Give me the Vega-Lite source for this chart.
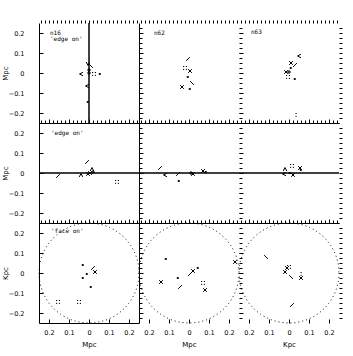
{
"$schema":"https://vega.github.io/schema/vega-lite/v6.json",
"padding":{"left":1,"top":19,"right":5,"bottom":5},
"background":"white",
"datasets":{"pts":[
{"run":"n16","view":"A","x":-0.005,"y":0.045,"sym":"v"},
{"run":"n16","view":"A","x":0.01,"y":0.035,"sym":"bslash"},
{"run":"n16","view":"A","x":-0.04,"y":-0.005,"sym":"lt"},
{"run":"n16","view":"A","x":0,"y":0,"sym":"plus"},
{"run":"n16","view":"A","x":0,"y":0.015,"sym":"plus"},
{"run":"n16","view":"A","x":0.025,"y":-0.005,"sym":"dots"},
{"run":"n16","view":"A","x":0.055,"y":-0.005,"sym":"dot"},
{"run":"n16","view":"A","x":-0.01,"y":-0.065,"sym":"lt"},
{"run":"n16","view":"A","x":-0.005,"y":-0.145,"sym":"dot"},
{"run":"n62","view":"A","x":-0.005,"y":0.07,"sym":"slash"},
{"run":"n62","view":"A","x":-0.02,"y":0.025,"sym":"dots"},
{"run":"n62","view":"A","x":0.005,"y":0.01,"sym":"x"},
{"run":"n62","view":"A","x":-0.005,"y":-0.02,"sym":"dot"},
{"run":"n62","view":"A","x":-0.035,"y":-0.07,"sym":"x"},
{"run":"n62","view":"A","x":0.015,"y":-0.05,"sym":"bslash"},
{"run":"n62","view":"A","x":0.005,"y":-0.08,"sym":"dot"},
{"run":"n63","view":"A","x":0.05,"y":0.085,"sym":"lt"},
{"run":"n63","view":"A","x":0.01,"y":0.05,"sym":"x"},
{"run":"n63","view":"A","x":0.03,"y":0.04,"sym":"slash"},
{"run":"n63","view":"A","x":0.01,"y":0.025,"sym":"dot"},
{"run":"n63","view":"A","x":-0.015,"y":0.005,"sym":"x"},
{"run":"n63","view":"A","x":0,"y":0.005,"sym":"plus"},
{"run":"n63","view":"A","x":-0.005,"y":-0.02,"sym":"dots"},
{"run":"n63","view":"A","x":0.03,"y":-0.03,"sym":"dot"},
{"run":"n63","view":"A","x":0.035,"y":-0.21,"sym":"colon"},
{"run":"n16","view":"B","x":-0.01,"y":0.055,"sym":"slash"},
{"run":"n16","view":"B","x":-0.155,"y":-0.015,"sym":"slash"},
{"run":"n16","view":"B","x":-0.04,"y":-0.01,"sym":"caret"},
{"run":"n16","view":"B","x":0.015,"y":0.02,"sym":"caret"},
{"run":"n16","view":"B","x":0.005,"y":0,"sym":"x"},
{"run":"n16","view":"B","x":-0.005,"y":-0.005,"sym":"x"},
{"run":"n16","view":"B","x":0.02,"y":0.005,"sym":"plus"},
{"run":"n16","view":"B","x":0.14,"y":-0.045,"sym":"dots"},
{"run":"n62","view":"B","x":-0.145,"y":0.025,"sym":"slash"},
{"run":"n62","view":"B","x":-0.12,"y":-0.01,"sym":"lt"},
{"run":"n62","view":"B","x":-0.05,"y":-0.04,"sym":"dot"},
{"run":"n62","view":"B","x":-0.055,"y":-0.005,"sym":"slash"},
{"run":"n62","view":"B","x":0.01,"y":0,"sym":"plus"},
{"run":"n62","view":"B","x":0.02,"y":-0.005,"sym":"x"},
{"run":"n62","view":"B","x":0.07,"y":0.01,"sym":"x"},
{"run":"n62","view":"B","x":0.085,"y":0.005,"sym":"dot"},
{"run":"n63","view":"B","x":-0.02,"y":0.02,"sym":"caret"},
{"run":"n63","view":"B","x":0.015,"y":0.035,"sym":"dots"},
{"run":"n63","view":"B","x":0.055,"y":0.025,"sym":"x"},
{"run":"n63","view":"B","x":0.06,"y":0.015,"sym":"dot"},
{"run":"n63","view":"B","x":-0.025,"y":-0.005,"sym":"lt"},
{"run":"n63","view":"B","x":0.005,"y":0,"sym":"dot"},
{"run":"n63","view":"B","x":0.02,"y":-0.01,"sym":"x"},
{"run":"n16","view":"C","x":-0.03,"y":0.04,"sym":"dot"},
{"run":"n16","view":"C","x":0.02,"y":0.025,"sym":"slash"},
{"run":"n16","view":"C","x":-0.01,"y":-0.005,"sym":"dot"},
{"run":"n16","view":"C","x":0.03,"y":0.005,"sym":"x"},
{"run":"n16","view":"C","x":-0.03,"y":-0.025,"sym":"dot"},
{"run":"n16","view":"C","x":0.01,"y":-0.07,"sym":"dot"},
{"run":"n16","view":"C","x":-0.155,"y":-0.145,"sym":"dots"},
{"run":"n16","view":"C","x":-0.05,"y":-0.145,"sym":"dots"},
{"run":"n62","view":"C","x":0.02,"y":0.01,"sym":"x"},
{"run":"n62","view":"C","x":0.045,"y":0.025,"sym":"dot"},
{"run":"n62","view":"C","x":0.005,"y":-0.005,"sym":"slash"},
{"run":"n62","view":"C","x":-0.055,"y":-0.025,"sym":"dot"},
{"run":"n62","view":"C","x":-0.045,"y":-0.07,"sym":"slash"},
{"run":"n62","view":"C","x":0.07,"y":-0.05,"sym":"dots"},
{"run":"n62","view":"C","x":0.08,"y":-0.085,"sym":"x"},
{"run":"n62","view":"C","x":-0.115,"y":0.07,"sym":"dot"},
{"run":"n62","view":"C","x":-0.14,"y":-0.045,"sym":"x"},
{"run":"n62","view":"C","x":0.23,"y":0.055,"sym":"x"},
{"run":"n63","view":"C","x":-0.115,"y":0.08,"sym":"bslash"},
{"run":"n63","view":"C","x":-0.01,"y":0.025,"sym":"x"},
{"run":"n63","view":"C","x":0,"y":0.03,"sym":"dots"},
{"run":"n63","view":"C","x":-0.02,"y":0.005,"sym":"x"},
{"run":"n63","view":"C","x":0.01,"y":-0.02,"sym":"bslash"},
{"run":"n63","view":"C","x":0.06,"y":-0.025,"sym":"x"},
{"run":"n63","view":"C","x":0.06,"y":-0.005,"sym":"colon"},
{"run":"n63","view":"C","x":0.015,"y":-0.16,"sym":"slash"}
]},
"columns":3,
"concat":[
{"width":100,"height":100,"layer":[
{"data":{"name":"pts"},"transform":[{"filter":"datum.run=='n16' && datum.view=='A'"}],"mark":{"type":"point","filled":false,"color":"black","strokeWidth":1,"strokeCap":"square","size":9,"opacity":1},
"encoding":{"x":{"field":"x","type":"quantitative","scale":{"domain":[-0.25,0.25],"nice":false,"zero":false},"axis":{"orient":"bottom","values":[-0.2,-0.1,0,0.1,0.2],"tickSize":-4,"labels":false,"title":null,"domain":true}},
"y":{"field":"y","type":"quantitative","scale":{"domain":[-0.25,0.25],"nice":false,"zero":false},"axis":{"orient":"left","values":[-0.2,-0.1,0,0.1,0.2],"tickSize":-4,"labels":true,"labelExpr":"format(datum.value,'~g')","labelPadding":19,"title":"Mpc","titlePadding":0,"domain":true}},
"shape":{"field":"sym","type":"nominal","legend":null,"scale":{"domain":["dot","x","plus","slash","bslash","caret","v","lt","dots","colon"],"range":["M-0.3,-0.3H0.3V0.3H-0.3Z","M-1,-1L1,1M-1,1L1,-1","M-1,0H1M0,-1V1","M-1,1L1,-1","M-1,-1L1,1","M-1,1L0,-1L1,1","M-1,-1L0,1L1,-1","M1,-1L-1,0L1,1","M-1,-1h0.1M0.9,-1h0.1M-1,0.9h0.1M0.9,0.9h0.1","M0,-1h0.1M0,0.9h0.1"]}}}},
{"data":{"name":"pts"},"transform":[{"filter":"datum.run=='n16' && datum.view=='A'"}],"mark":{"type":"point","opacity":0},
"encoding":{"x":{"field":"x","type":"quantitative","axis":{"orient":"top","values":[-0.24,-0.22,-0.2,-0.18,-0.16,-0.14,-0.12,-0.1,-0.08,-0.06,-0.04,-0.02,0,0.02,0.04,0.06,0.08,0.1,0.12,0.14,0.16,0.18,0.2,0.22,0.24],"tickSize":3,"labels":false,"title":null,"domain":false}},
"y":{"field":"y","type":"quantitative","axis":{"orient":"right","values":[-0.225,-0.2,-0.175,-0.15,-0.125,-0.1,-0.075,-0.05,-0.025,0,0.025,0.05,0.075,0.1,0.125,0.15,0.175,0.2,0.225],"tickSize":3,"labels":false,"title":null,"domain":true}}}},
{"data":{"values":[{}]},"mark":{"type":"rule","color":"black","strokeWidth":1.5},"encoding":{"x":{"datum":0,"type":"quantitative","axis":null}}},
{"data":{"values":[{"label":"n16\n'edge on'"}]},"mark":{"type":"text","align":"left","baseline":"top","font":"DejaVu Sans Mono","fontSize":6,"lineBreak":"\n","lineHeight":5.5,"color":"black"},"encoding":{"text":{"field":"label"},"x":{"datum":-0.195,"type":"quantitative","axis":null},"y":{"datum":0.215,"type":"quantitative","axis":null}}}
],"resolve":{"axis":{"x":"independent","y":"independent"}}},
{"width":100,"height":100,"layer":[
{"data":{"name":"pts"},"transform":[{"filter":"datum.run=='n62' && datum.view=='A'"}],"mark":{"type":"point","filled":false,"color":"black","strokeWidth":1,"strokeCap":"square","size":9,"opacity":1},
"encoding":{"x":{"field":"x","type":"quantitative","scale":{"domain":[-0.25,0.25],"nice":false,"zero":false},"axis":{"orient":"bottom","values":[-0.2,-0.1,0,0.1,0.2],"tickSize":-4,"labels":false,"title":null,"domain":true}},
"y":{"field":"y","type":"quantitative","scale":{"domain":[-0.25,0.25],"nice":false,"zero":false},"axis":{"orient":"left","values":[-0.2,-0.1,0,0.1,0.2],"tickSize":-4,"labels":false,"title":null,"domain":false}},
"shape":{"field":"sym","type":"nominal","legend":null,"scale":{"domain":["dot","x","plus","slash","bslash","caret","v","lt","dots","colon"],"range":["M-0.3,-0.3H0.3V0.3H-0.3Z","M-1,-1L1,1M-1,1L1,-1","M-1,0H1M0,-1V1","M-1,1L1,-1","M-1,-1L1,1","M-1,1L0,-1L1,1","M-1,-1L0,1L1,-1","M1,-1L-1,0L1,1","M-1,-1h0.1M0.9,-1h0.1M-1,0.9h0.1M0.9,0.9h0.1","M0,-1h0.1M0,0.9h0.1"]}}}},
{"data":{"name":"pts"},"transform":[{"filter":"datum.run=='n62' && datum.view=='A'"}],"mark":{"type":"point","opacity":0},
"encoding":{"x":{"field":"x","type":"quantitative","axis":{"orient":"top","values":[-0.24,-0.22,-0.2,-0.18,-0.16,-0.14,-0.12,-0.1,-0.08,-0.06,-0.04,-0.02,0,0.02,0.04,0.06,0.08,0.1,0.12,0.14,0.16,0.18,0.2,0.22,0.24],"tickSize":3,"labels":false,"title":null,"domain":false}},
"y":{"field":"y","type":"quantitative","axis":{"orient":"right","values":[-0.225,-0.2,-0.175,-0.15,-0.125,-0.1,-0.075,-0.05,-0.025,0,0.025,0.05,0.075,0.1,0.125,0.15,0.175,0.2,0.225],"tickSize":3,"labels":false,"title":null,"domain":false}}}},
{"data":{"values":[{"label":"n62"}]},"mark":{"type":"text","align":"left","baseline":"top","font":"DejaVu Sans Mono","fontSize":6,"color":"black"},"encoding":{"text":{"field":"label"},"x":{"datum":-0.175,"type":"quantitative","axis":null},"y":{"datum":0.215,"type":"quantitative","axis":null}}}
],"resolve":{"axis":{"x":"independent","y":"independent"}}},
{"width":100,"height":100,"layer":[
{"data":{"name":"pts"},"transform":[{"filter":"datum.run=='n63' && datum.view=='A'"}],"mark":{"type":"point","filled":false,"color":"black","strokeWidth":1,"strokeCap":"square","size":9,"opacity":1},
"encoding":{"x":{"field":"x","type":"quantitative","scale":{"domain":[-0.25,0.25],"nice":false,"zero":false},"axis":{"orient":"bottom","values":[-0.2,-0.1,0,0.1,0.2],"tickSize":-4,"labels":false,"title":null,"domain":true}},
"y":{"field":"y","type":"quantitative","scale":{"domain":[-0.25,0.25],"nice":false,"zero":false},"axis":{"orient":"left","values":[-0.2,-0.1,0,0.1,0.2],"tickSize":-4,"labels":false,"title":null,"domain":false}},
"shape":{"field":"sym","type":"nominal","legend":null,"scale":{"domain":["dot","x","plus","slash","bslash","caret","v","lt","dots","colon"],"range":["M-0.3,-0.3H0.3V0.3H-0.3Z","M-1,-1L1,1M-1,1L1,-1","M-1,0H1M0,-1V1","M-1,1L1,-1","M-1,-1L1,1","M-1,1L0,-1L1,1","M-1,-1L0,1L1,-1","M1,-1L-1,0L1,1","M-1,-1h0.1M0.9,-1h0.1M-1,0.9h0.1M0.9,0.9h0.1","M0,-1h0.1M0,0.9h0.1"]}}}},
{"data":{"name":"pts"},"transform":[{"filter":"datum.run=='n63' && datum.view=='A'"}],"mark":{"type":"point","opacity":0},
"encoding":{"x":{"field":"x","type":"quantitative","axis":{"orient":"top","values":[-0.24,-0.22,-0.2,-0.18,-0.16,-0.14,-0.12,-0.1,-0.08,-0.06,-0.04,-0.02,0,0.02,0.04,0.06,0.08,0.1,0.12,0.14,0.16,0.18,0.2,0.22,0.24],"tickSize":3,"labels":false,"title":null,"domain":false}},
"y":{"field":"y","type":"quantitative","axis":{"orient":"right","values":[-0.225,-0.2,-0.175,-0.15,-0.125,-0.1,-0.075,-0.05,-0.025,0,0.025,0.05,0.075,0.1,0.125,0.15,0.175,0.2,0.225],"tickSize":3,"labels":false,"title":null,"domain":false}}}},
{"data":{"values":[{"label":"n63"}]},"mark":{"type":"text","align":"left","baseline":"top","font":"DejaVu Sans Mono","fontSize":6,"color":"black"},"encoding":{"text":{"field":"label"},"x":{"datum":-0.19,"type":"quantitative","axis":null},"y":{"datum":0.22,"type":"quantitative","axis":null}}}
],"resolve":{"axis":{"x":"independent","y":"independent"}}},
{"width":100,"height":100,"layer":[
{"data":{"name":"pts"},"transform":[{"filter":"datum.run=='n16' && datum.view=='B'"}],"mark":{"type":"point","filled":false,"color":"black","strokeWidth":1,"strokeCap":"square","size":9,"opacity":1},
"encoding":{"x":{"field":"x","type":"quantitative","scale":{"domain":[-0.25,0.25],"nice":false,"zero":false},"axis":{"orient":"bottom","values":[-0.2,-0.1,0,0.1,0.2],"tickSize":-4,"labels":false,"title":null,"domain":true}},
"y":{"field":"y","type":"quantitative","scale":{"domain":[-0.25,0.25],"nice":false,"zero":false},"axis":{"orient":"left","values":[-0.2,-0.1,0,0.1,0.2],"tickSize":-4,"labels":true,"labelExpr":"format(datum.value,'~g')","labelPadding":19,"title":"Mpc","titlePadding":0,"domain":true}},
"shape":{"field":"sym","type":"nominal","legend":null,"scale":{"domain":["dot","x","plus","slash","bslash","caret","v","lt","dots","colon"],"range":["M-0.3,-0.3H0.3V0.3H-0.3Z","M-1,-1L1,1M-1,1L1,-1","M-1,0H1M0,-1V1","M-1,1L1,-1","M-1,-1L1,1","M-1,1L0,-1L1,1","M-1,-1L0,1L1,-1","M1,-1L-1,0L1,1","M-1,-1h0.1M0.9,-1h0.1M-1,0.9h0.1M0.9,0.9h0.1","M0,-1h0.1M0,0.9h0.1"]}}}},
{"data":{"name":"pts"},"transform":[{"filter":"datum.run=='n16' && datum.view=='B'"}],"mark":{"type":"point","opacity":0},
"encoding":{"x":{"field":"x","type":"quantitative","axis":{"orient":"top","values":[-0.24,-0.22,-0.2,-0.18,-0.16,-0.14,-0.12,-0.1,-0.08,-0.06,-0.04,-0.02,0,0.02,0.04,0.06,0.08,0.1,0.12,0.14,0.16,0.18,0.2,0.22,0.24],"tickSize":3,"labels":false,"title":null,"domain":true}},
"y":{"field":"y","type":"quantitative","axis":{"orient":"right","values":[-0.225,-0.2,-0.175,-0.15,-0.125,-0.1,-0.075,-0.05,-0.025,0,0.025,0.05,0.075,0.1,0.125,0.15,0.175,0.2,0.225],"tickSize":3,"labels":false,"title":null,"domain":true}}}},
{"data":{"values":[{}]},"mark":{"type":"rule","color":"black","strokeWidth":1.5},"encoding":{"y":{"datum":0,"type":"quantitative","axis":null}}},
{"data":{"values":[{"label":"'edge on'"}]},"mark":{"type":"text","align":"left","baseline":"top","font":"DejaVu Sans Mono","fontSize":6,"color":"black"},"encoding":{"text":{"field":"label"},"x":{"datum":-0.19,"type":"quantitative","axis":null},"y":{"datum":0.215,"type":"quantitative","axis":null}}}
],"resolve":{"axis":{"x":"independent","y":"independent"}}},
{"width":100,"height":100,"layer":[
{"data":{"name":"pts"},"transform":[{"filter":"datum.run=='n62' && datum.view=='B'"}],"mark":{"type":"point","filled":false,"color":"black","strokeWidth":1,"strokeCap":"square","size":9,"opacity":1},
"encoding":{"x":{"field":"x","type":"quantitative","scale":{"domain":[-0.25,0.25],"nice":false,"zero":false},"axis":{"orient":"bottom","values":[-0.2,-0.1,0,0.1,0.2],"tickSize":-4,"labels":false,"title":null,"domain":true}},
"y":{"field":"y","type":"quantitative","scale":{"domain":[-0.25,0.25],"nice":false,"zero":false},"axis":{"orient":"left","values":[-0.2,-0.1,0,0.1,0.2],"tickSize":-4,"labels":false,"title":null,"domain":false}},
"shape":{"field":"sym","type":"nominal","legend":null,"scale":{"domain":["dot","x","plus","slash","bslash","caret","v","lt","dots","colon"],"range":["M-0.3,-0.3H0.3V0.3H-0.3Z","M-1,-1L1,1M-1,1L1,-1","M-1,0H1M0,-1V1","M-1,1L1,-1","M-1,-1L1,1","M-1,1L0,-1L1,1","M-1,-1L0,1L1,-1","M1,-1L-1,0L1,1","M-1,-1h0.1M0.9,-1h0.1M-1,0.9h0.1M0.9,0.9h0.1","M0,-1h0.1M0,0.9h0.1"]}}}},
{"data":{"name":"pts"},"transform":[{"filter":"datum.run=='n62' && datum.view=='B'"}],"mark":{"type":"point","opacity":0},
"encoding":{"x":{"field":"x","type":"quantitative","axis":{"orient":"top","values":[-0.24,-0.22,-0.2,-0.18,-0.16,-0.14,-0.12,-0.1,-0.08,-0.06,-0.04,-0.02,0,0.02,0.04,0.06,0.08,0.1,0.12,0.14,0.16,0.18,0.2,0.22,0.24],"tickSize":3,"labels":false,"title":null,"domain":true}},
"y":{"field":"y","type":"quantitative","axis":{"orient":"right","values":[-0.225,-0.2,-0.175,-0.15,-0.125,-0.1,-0.075,-0.05,-0.025,0,0.025,0.05,0.075,0.1,0.125,0.15,0.175,0.2,0.225],"tickSize":3,"labels":false,"title":null,"domain":false}}}},
{"data":{"values":[{}]},"mark":{"type":"rule","color":"black","strokeWidth":1.5},"encoding":{"y":{"datum":0,"type":"quantitative","axis":null}}}
],"resolve":{"axis":{"x":"independent","y":"independent"}}},
{"width":100,"height":100,"layer":[
{"data":{"name":"pts"},"transform":[{"filter":"datum.run=='n63' && datum.view=='B'"}],"mark":{"type":"point","filled":false,"color":"black","strokeWidth":1,"strokeCap":"square","size":9,"opacity":1},
"encoding":{"x":{"field":"x","type":"quantitative","scale":{"domain":[-0.25,0.25],"nice":false,"zero":false},"axis":{"orient":"bottom","values":[-0.2,-0.1,0,0.1,0.2],"tickSize":-4,"labels":false,"title":null,"domain":true}},
"y":{"field":"y","type":"quantitative","scale":{"domain":[-0.25,0.25],"nice":false,"zero":false},"axis":{"orient":"left","values":[-0.2,-0.1,0,0.1,0.2],"tickSize":-4,"labels":false,"title":null,"domain":false}},
"shape":{"field":"sym","type":"nominal","legend":null,"scale":{"domain":["dot","x","plus","slash","bslash","caret","v","lt","dots","colon"],"range":["M-0.3,-0.3H0.3V0.3H-0.3Z","M-1,-1L1,1M-1,1L1,-1","M-1,0H1M0,-1V1","M-1,1L1,-1","M-1,-1L1,1","M-1,1L0,-1L1,1","M-1,-1L0,1L1,-1","M1,-1L-1,0L1,1","M-1,-1h0.1M0.9,-1h0.1M-1,0.9h0.1M0.9,0.9h0.1","M0,-1h0.1M0,0.9h0.1"]}}}},
{"data":{"name":"pts"},"transform":[{"filter":"datum.run=='n63' && datum.view=='B'"}],"mark":{"type":"point","opacity":0},
"encoding":{"x":{"field":"x","type":"quantitative","axis":{"orient":"top","values":[-0.24,-0.22,-0.2,-0.18,-0.16,-0.14,-0.12,-0.1,-0.08,-0.06,-0.04,-0.02,0,0.02,0.04,0.06,0.08,0.1,0.12,0.14,0.16,0.18,0.2,0.22,0.24],"tickSize":3,"labels":false,"title":null,"domain":true}},
"y":{"field":"y","type":"quantitative","axis":{"orient":"right","values":[-0.225,-0.2,-0.175,-0.15,-0.125,-0.1,-0.075,-0.05,-0.025,0,0.025,0.05,0.075,0.1,0.125,0.15,0.175,0.2,0.225],"tickSize":3,"labels":false,"title":null,"domain":false}}}},
{"data":{"values":[{}]},"mark":{"type":"rule","color":"black","strokeWidth":1.5},"encoding":{"y":{"datum":0,"type":"quantitative","axis":null}}}
],"resolve":{"axis":{"x":"independent","y":"independent"}}},
{"width":100,"height":100,"layer":[
{"data":{"name":"pts"},"transform":[{"filter":"datum.run=='n16' && datum.view=='C'"}],"mark":{"type":"point","filled":false,"color":"black","strokeWidth":1,"strokeCap":"square","size":9,"opacity":1},
"encoding":{"x":{"field":"x","type":"quantitative","scale":{"domain":[-0.25,0.25],"nice":false,"zero":false},"axis":{"orient":"bottom","values":[-0.2,-0.1,0,0.1,0.2],"tickSize":-4,"labels":true,"labelExpr":"format(abs(datum.value),'~g')","labelPadding":10,"title":"Mpc","titlePadding":5,"domain":true}},
"y":{"field":"y","type":"quantitative","scale":{"domain":[-0.25,0.25],"nice":false,"zero":false},"axis":{"orient":"left","values":[-0.2,-0.1,0,0.1,0.2],"tickSize":-4,"labels":true,"labelExpr":"format(datum.value,'~g')","labelPadding":19,"title":"Kpc","titlePadding":0,"domain":true}},
"shape":{"field":"sym","type":"nominal","legend":null,"scale":{"domain":["dot","x","plus","slash","bslash","caret","v","lt","dots","colon"],"range":["M-0.3,-0.3H0.3V0.3H-0.3Z","M-1,-1L1,1M-1,1L1,-1","M-1,0H1M0,-1V1","M-1,1L1,-1","M-1,-1L1,1","M-1,1L0,-1L1,1","M-1,-1L0,1L1,-1","M1,-1L-1,0L1,1","M-1,-1h0.1M0.9,-1h0.1M-1,0.9h0.1M0.9,0.9h0.1","M0,-1h0.1M0,0.9h0.1"]}}}},
{"data":{"name":"pts"},"transform":[{"filter":"datum.run=='n16' && datum.view=='C'"}],"mark":{"type":"point","opacity":0},
"encoding":{"x":{"field":"x","type":"quantitative","axis":{"orient":"top","values":[-0.24,-0.22,-0.2,-0.18,-0.16,-0.14,-0.12,-0.1,-0.08,-0.06,-0.04,-0.02,0,0.02,0.04,0.06,0.08,0.1,0.12,0.14,0.16,0.18,0.2,0.22,0.24],"tickSize":3,"labels":false,"title":null,"domain":true}},
"y":{"field":"y","type":"quantitative","axis":{"orient":"right","values":[-0.225,-0.2,-0.175,-0.15,-0.125,-0.1,-0.075,-0.05,-0.025,0,0.025,0.05,0.075,0.1,0.125,0.15,0.175,0.2,0.225],"tickSize":3,"labels":false,"title":null,"domain":true}}}},
{"data":{"values":[{}]},"mark":{"type":"point","shape":"circle","size":10000,"filled":false,"color":"black","strokeWidth":1,"strokeDash":[1,3],"opacity":1},"encoding":{"x":{"datum":0,"type":"quantitative","axis":null},"y":{"datum":0,"type":"quantitative","axis":null}}},
{"data":{"values":[{"label":"'face on'"}]},"mark":{"type":"text","align":"left","baseline":"top","font":"DejaVu Sans Mono","fontSize":6,"color":"black"},"encoding":{"text":{"field":"label"},"x":{"datum":-0.19,"type":"quantitative","axis":null},"y":{"datum":0.225,"type":"quantitative","axis":null}}}
],"resolve":{"axis":{"x":"independent","y":"independent"}}},
{"width":100,"height":100,"layer":[
{"data":{"name":"pts"},"transform":[{"filter":"datum.run=='n62' && datum.view=='C'"}],"mark":{"type":"point","filled":false,"color":"black","strokeWidth":1,"strokeCap":"square","size":9,"opacity":1},
"encoding":{"x":{"field":"x","type":"quantitative","scale":{"domain":[-0.25,0.25],"nice":false,"zero":false},"axis":{"orient":"bottom","values":[-0.2,-0.1,0,0.1,0.2],"tickSize":-4,"labels":true,"labelExpr":"format(abs(datum.value),'~g')","labelPadding":10,"title":"Mpc","titlePadding":5,"domain":false}},
"y":{"field":"y","type":"quantitative","scale":{"domain":[-0.25,0.25],"nice":false,"zero":false},"axis":{"orient":"left","values":[-0.2,-0.1,0,0.1,0.2],"tickSize":-4,"labels":false,"title":null,"domain":false}},
"shape":{"field":"sym","type":"nominal","legend":null,"scale":{"domain":["dot","x","plus","slash","bslash","caret","v","lt","dots","colon"],"range":["M-0.3,-0.3H0.3V0.3H-0.3Z","M-1,-1L1,1M-1,1L1,-1","M-1,0H1M0,-1V1","M-1,1L1,-1","M-1,-1L1,1","M-1,1L0,-1L1,1","M-1,-1L0,1L1,-1","M1,-1L-1,0L1,1","M-1,-1h0.1M0.9,-1h0.1M-1,0.9h0.1M0.9,0.9h0.1","M0,-1h0.1M0,0.9h0.1"]}}}},
{"data":{"name":"pts"},"transform":[{"filter":"datum.run=='n62' && datum.view=='C'"}],"mark":{"type":"point","opacity":0},
"encoding":{"x":{"field":"x","type":"quantitative","axis":{"orient":"top","values":[-0.24,-0.22,-0.2,-0.18,-0.16,-0.14,-0.12,-0.1,-0.08,-0.06,-0.04,-0.02,0,0.02,0.04,0.06,0.08,0.1,0.12,0.14,0.16,0.18,0.2,0.22,0.24],"tickSize":3,"labels":false,"title":null,"domain":true}},
"y":{"field":"y","type":"quantitative","axis":{"orient":"right","values":[-0.225,-0.2,-0.175,-0.15,-0.125,-0.1,-0.075,-0.05,-0.025,0,0.025,0.05,0.075,0.1,0.125,0.15,0.175,0.2,0.225],"tickSize":3,"labels":false,"title":null,"domain":false}}}},
{"data":{"values":[{}]},"mark":{"type":"point","shape":"circle","size":10000,"filled":false,"color":"black","strokeWidth":1,"strokeDash":[1,3],"opacity":1},"encoding":{"x":{"datum":0,"type":"quantitative","axis":null},"y":{"datum":0,"type":"quantitative","axis":null}}}
],"resolve":{"axis":{"x":"independent","y":"independent"}}},
{"width":100,"height":100,"layer":[
{"data":{"name":"pts"},"transform":[{"filter":"datum.run=='n63' && datum.view=='C'"}],"mark":{"type":"point","filled":false,"color":"black","strokeWidth":1,"strokeCap":"square","size":9,"opacity":1},
"encoding":{"x":{"field":"x","type":"quantitative","scale":{"domain":[-0.25,0.25],"nice":false,"zero":false},"axis":{"orient":"bottom","values":[-0.2,-0.1,0,0.1,0.2],"tickSize":-4,"labels":true,"labelExpr":"format(abs(datum.value),'~g')","labelPadding":10,"title":"Kpc","titlePadding":5,"domain":false}},
"y":{"field":"y","type":"quantitative","scale":{"domain":[-0.25,0.25],"nice":false,"zero":false},"axis":{"orient":"left","values":[-0.2,-0.1,0,0.1,0.2],"tickSize":-4,"labels":false,"title":null,"domain":false}},
"shape":{"field":"sym","type":"nominal","legend":null,"scale":{"domain":["dot","x","plus","slash","bslash","caret","v","lt","dots","colon"],"range":["M-0.3,-0.3H0.3V0.3H-0.3Z","M-1,-1L1,1M-1,1L1,-1","M-1,0H1M0,-1V1","M-1,1L1,-1","M-1,-1L1,1","M-1,1L0,-1L1,1","M-1,-1L0,1L1,-1","M1,-1L-1,0L1,1","M-1,-1h0.1M0.9,-1h0.1M-1,0.9h0.1M0.9,0.9h0.1","M0,-1h0.1M0,0.9h0.1"]}}}},
{"data":{"name":"pts"},"transform":[{"filter":"datum.run=='n63' && datum.view=='C'"}],"mark":{"type":"point","opacity":0},
"encoding":{"x":{"field":"x","type":"quantitative","axis":{"orient":"top","values":[-0.24,-0.22,-0.2,-0.18,-0.16,-0.14,-0.12,-0.1,-0.08,-0.06,-0.04,-0.02,0,0.02,0.04,0.06,0.08,0.1,0.12,0.14,0.16,0.18,0.2,0.22,0.24],"tickSize":3,"labels":false,"title":null,"domain":true}},
"y":{"field":"y","type":"quantitative","axis":{"orient":"right","values":[-0.225,-0.2,-0.175,-0.15,-0.125,-0.1,-0.075,-0.05,-0.025,0,0.025,0.05,0.075,0.1,0.125,0.15,0.175,0.2,0.225],"tickSize":3,"labels":false,"title":null,"domain":false}}}},
{"data":{"values":[{}]},"mark":{"type":"point","shape":"circle","size":10000,"filled":false,"color":"black","strokeWidth":1,"strokeDash":[1,3],"opacity":1},"encoding":{"x":{"datum":0,"type":"quantitative","axis":null},"y":{"datum":0,"type":"quantitative","axis":null}}}
],"resolve":{"axis":{"x":"independent","y":"independent"}}}
],
"spacing":0,"bounds":"flush",
"config":{"view":{"stroke":null},"axis":{"grid":false,"domainColor":"black","tickColor":"black","labelColor":"black","titleColor":"black","labelFont":"DejaVu Sans","labelFontSize":6.5,"titleFont":"DejaVu Sans","titleFontSize":7,"titleFontWeight":"normal","domainWidth":1,"tickWidth":1}}
}
